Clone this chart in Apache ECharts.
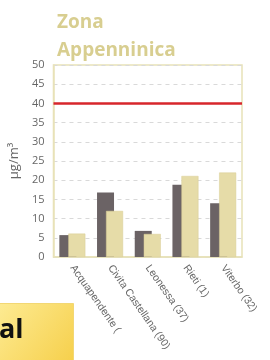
<!DOCTYPE html>
<html>
<head>
<meta charset="utf-8">
<script src="https://cdn.jsdelivr.net/npm/echarts@6/dist/echarts.min.js"></script>
<style>
  html, body { margin: 0; padding: 0; background: #fff; }
  #chart { width: 270px; height: 360px; }
</style>
</head>
<body>
<div id="chart"></div>
<script>
// stazioni (categorie)
const stations = ['Acquapendente (', 'Civita Castellana (90)', 'Leonessa (37)', 'Rieti (1)', 'Viterbo (32)']
// serie scura e serie chiara (µg/m³)
const darkValues = [5.7, 16.8, 6.8, 18.8, 14]
const lightValues = [6.1, 12, 6, 21.1, 22]
const yTicks = { min: 0, max: 50, interval: 5 }
const limitValue = 40

const chart = echarts.init(document.getElementById('chart'))

const option = {
  animation: false,
  title: {
    text: 'Zona\nAppenninica',
    left: 52,
    top: 4,
    textStyle: {
      color: '#d8ce90',
      fontFamily: 'Open Sans',
      fontWeight: 'bold',
      fontSize: 19,
      lineHeight: 28
    }
  },
  grid: {
    left: 53,
    right: 28,
    top: 65,
    bottom: 103,
    show: true,
    borderColor: '#e8e2b8',
    borderWidth: 1.5
  },
  xAxis: {
    type: 'category',
    data: stations,
    axisLine: { lineStyle: { color: '#e8e2b8', width: 1.5 } },
    axisTick: { show: false },
    axisLabel: {
      interval: 0,
      rotate: -55,
      margin: 9,
      color: '#666',
      fontFamily: 'Liberation Sans',
      fontSize: 10.5
    }
  },
  yAxis: {
    type: 'value',
    min: yTicks.min,
    max: yTicks.max,
    interval: yTicks.interval,
    name: 'µg/m³',
    nameLocation: 'middle',
    nameGap: 26,
    nameTextStyle: { color: '#666', fontFamily: 'Open Sans', fontSize: 13 },
    axisLine: { show: true, lineStyle: { color: '#e8e2b8', width: 1.5 } },
    axisTick: { show: false },
    axisLabel: { color: '#666', fontFamily: 'Open Sans', fontSize: 11, margin: 9 },
    splitLine: { lineStyle: { color: '#d9d9d9', type: [4, 4] } }
  },
  series: [
    {
      type: 'bar',
      data: darkValues,
      barWidth: 17,
      barGap: '-47%',
      itemStyle: { color: '#6b6365' },
      markLine: {
        silent: true,
        symbol: 'none',
        label: { show: false },
        lineStyle: { color: '#d7262b', width: 2.5, type: 'solid' },
        data: [{ yAxis: limitValue }]
      }
    },
    {
      type: 'bar',
      data: lightValues,
      barWidth: 17,
      itemStyle: { color: '#e6dca8', borderColor: '#d8cd94', borderWidth: 0.5 }
    }
  ],
  graphic: [
    {
      type: 'rect',
      left: -2,
      top: 303,
      shape: { width: 75, height: 60 },
      style: {
        fill: new echarts.graphic.LinearGradient(0, 0, 1, 1, [
          { offset: 0, color: '#fdeb93' },
          { offset: 1, color: '#f6cf4a' }
        ]),
        stroke: '#f2d774',
        lineWidth: 1
      }
    },
    {
      type: 'text',
      left: -1,
      top: 317,
      style: {
        text: 'al',
        fill: '#111',
        font: 'bold 27px "Open Sans"'
      }
    }
  ]
}

chart.setOption(option)
</script>
</body>
</html>
